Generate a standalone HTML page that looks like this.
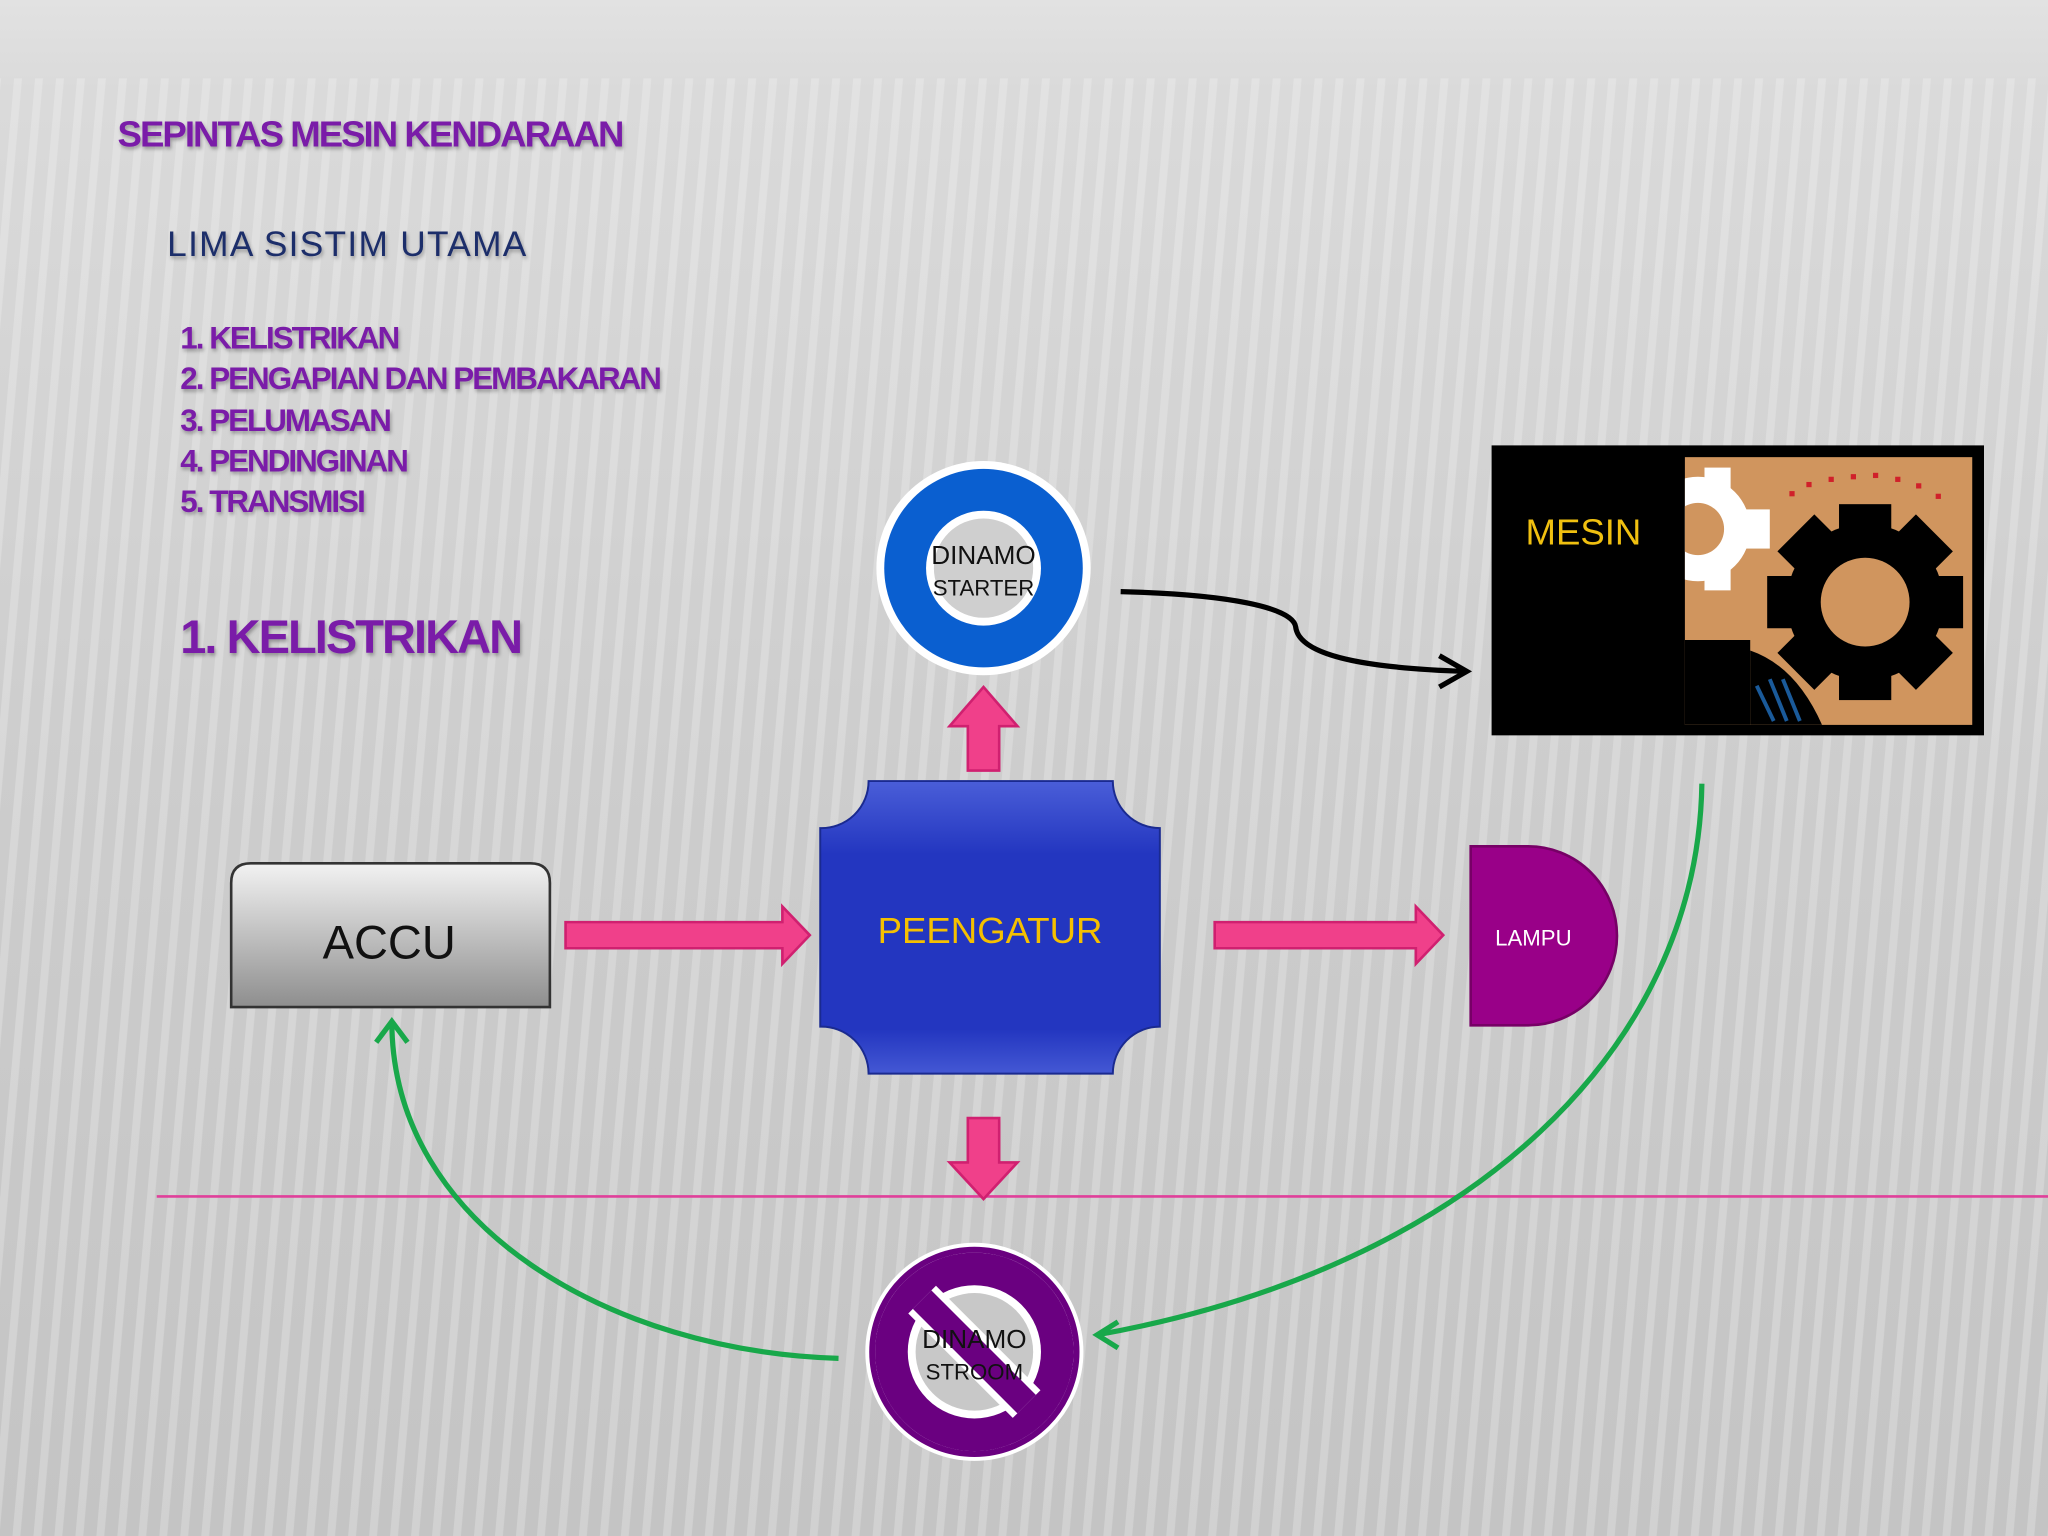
<!DOCTYPE html>
<html><head><meta charset="utf-8"><style>
html,body{margin:0;padding:0;width:2048px;height:1536px;overflow:hidden;background:#d0d0d0}
svg{display:block}
</style></head><body>
<svg width="2048" height="1536" viewBox="0 0 1568 1176" xmlns="http://www.w3.org/2000/svg" font-family="Liberation Sans, sans-serif">
<defs>
<linearGradient id="bg" x1="0" y1="0" x2="0" y2="1">
<stop offset="0" stop-color="#e2e2e2"/><stop offset="0.06" stop-color="#dadada"/><stop offset="0.5" stop-color="#cdcdcd"/><stop offset="1" stop-color="#c4c4c4"/></linearGradient>
<pattern id="st" width="16" height="40" patternUnits="userSpaceOnUse" patternTransform="rotate(5)">
<rect x="0" width="6" height="40" fill="#ffffff" opacity="0.22"/></pattern>
<linearGradient id="accu" x1="0" y1="0" x2="0" y2="1"><stop offset="0" stop-color="#f2f2f2"/><stop offset="1" stop-color="#8e8e8e"/></linearGradient>
<linearGradient id="blu" x1="0" y1="0" x2="0" y2="1"><stop offset="0" stop-color="#4a5ed8"/><stop offset="0.25" stop-color="#2336c0"/><stop offset="0.85" stop-color="#2336c0"/><stop offset="1" stop-color="#4458d4"/></linearGradient>
<clipPath id="tan"><rect x="1290" y="350" width="220" height="205"/></clipPath>
<filter id="sh"><feDropShadow dx="1" dy="2" stdDeviation="1.5" flood-color="#000" flood-opacity="0.3"/></filter>
</defs>
<rect width="1568" height="1176" fill="url(#bg)"/>
<rect y="60" width="1568" height="1116" fill="url(#st)"/>

<g font-weight="bold" fill="#7a1fa8" style="letter-spacing:-1.5px" filter="url(#sh)">
<text x="90" y="112" font-size="28">SEPINTAS MESIN KENDARAAN</text>
<text x="138" y="267" font-size="24">1. KELISTRIKAN</text>
<text x="138" y="298" font-size="24">2. PENGAPIAN DAN PEMBAKARAN</text>
<text x="138" y="330" font-size="24">3. PELUMASAN</text>
<text x="138" y="361" font-size="24">4. PENDINGINAN</text>
<text x="138" y="392" font-size="24">5. TRANSMISI</text>
<text x="138" y="500" font-size="36">1. KELISTRIKAN</text>
</g>
<text x="128" y="196" font-size="27" fill="#1f2e6a" style="letter-spacing:1px" filter="url(#sh)">LIMA SISTIM UTAMA</text>

<line x1="120" y1="916" x2="1568" y2="916" stroke="#e0409a" stroke-width="2"/>

<!-- dinamo starter -->
<circle cx="753" cy="435" r="82" fill="#fff"/>
<circle cx="753" cy="435" r="76" fill="#0a5fd0"/>
<circle cx="753" cy="435" r="44" fill="#fff"/>
<circle cx="753" cy="435" r="38" fill="#cfcfcf"/>
<text x="753" y="432" font-size="20" text-anchor="middle" fill="#111">DINAMO</text>
<text x="753" y="456" font-size="17" text-anchor="middle" fill="#111">STARTER</text>

<path d="M741,590 L741,556 L727,556 L753,526 L779,556 L765,556 L765,590Z" fill="#f0408a" stroke="#d02070" stroke-width="2"/>
<path d="M741,856 L741,890 L727,890 L753,918 L779,890 L765,890 L765,856Z" fill="#f0408a" stroke="#d02070" stroke-width="2"/>
<path d="M433,706 L599,706 L599,694 L620,716 L599,738 L599,726 L433,726Z" fill="#f0408a" stroke="#d02070" stroke-width="2"/>
<path d="M930,706 L1084,706 L1084,694 L1105,716 L1084,738 L1084,726 L930,726Z" fill="#f0408a" stroke="#d02070" stroke-width="2"/>

<!-- mesin -->
<rect x="1142" y="341" width="377" height="222" fill="#000"/>
<rect x="1290" y="350" width="220" height="205" fill="#d0955e"/>
<g clip-path="url(#tan)">
<g fill="#fff"><circle cx="1300" cy="405" r="40"/><rect x="1310" y="390" width="45" height="30"/><rect x="1305" y="358" width="20" height="20"/><rect x="1305" y="432" width="20" height="20"/></g>
<circle cx="1300" cy="405" r="20" fill="#d0955e"/>
<rect x="1290" y="490" width="50" height="65" fill="#000"/>
<path d="M1340,498 Q1375,510 1395,555 L1340,555Z" fill="#000"/>
<g stroke="#1a5a9a" stroke-width="3"><line x1="1345" y1="525" x2="1358" y2="552"/><line x1="1355" y1="520" x2="1368" y2="552"/><line x1="1365" y1="520" x2="1378" y2="552"/></g>
</g>
<g transform="translate(1428,461)" fill="#000">
<circle r="60"/>
<rect x="-20" y="-75" width="40" height="150"/><rect x="-75" y="-20" width="150" height="40"/>
<rect x="-20" y="-75" width="40" height="150" transform="rotate(45)"/><rect x="-20" y="-75" width="40" height="150" transform="rotate(-45)"/>
<circle r="34" fill="#d0955e"/></g>
<g fill="#d0202a"><rect x="1370" y="376" width="4" height="4"/><rect x="1383" y="369" width="4" height="4"/><rect x="1400" y="365" width="4" height="4"/><rect x="1417" y="363" width="4" height="4"/><rect x="1434" y="362" width="4" height="4"/><rect x="1451" y="365" width="4" height="4"/><rect x="1467" y="370" width="4" height="4"/><rect x="1482" y="378" width="4" height="4"/></g>
<text x="1168" y="417" font-size="28" fill="#f0c010">MESIN</text>

<path d="M858,453 C940,455 990,465 992,480 C995,505 1060,512 1122,514" fill="none" stroke="#000" stroke-width="4"/>
<path d="M1102,502 L1123,514 L1102,526" fill="none" stroke="#000" stroke-width="4"/>

<!-- peengatur -->
<path d="M665,598 L852,598 A36,36 0 0 0 888,634 L888,786 A36,36 0 0 0 852,822 L665,822 A36,36 0 0 0 628,786 L628,634 A36,36 0 0 0 665,598Z" fill="url(#blu)" stroke="#1a2a90" stroke-width="1.5"/>
<text x="758" y="722" font-size="28" text-anchor="middle" fill="#f5c000">PEENGATUR</text>

<!-- accu -->
<path d="M192,661 L406,661 Q421,661 421,676 L421,771 L177,771 L177,676 Q177,661 192,661Z" fill="url(#accu)" stroke="#333" stroke-width="2"/>
<text x="298" y="734" font-size="36" text-anchor="middle" fill="#111">ACCU</text>

<!-- lampu -->
<path d="M1126,648 L1170,648 A68,68.5 0 0 1 1170,785 L1126,785Z" fill="#990088" stroke="#770066" stroke-width="2"/>
<text x="1174" y="724" font-size="17" text-anchor="middle" fill="#fff">LAMPU</text>

<!-- dinamo stroom -->
<circle cx="746" cy="1035" r="82" fill="#fff"/>
<circle cx="746" cy="1035" r="76" fill="#6a0080"/>
<circle cx="746" cy="1035" r="51" fill="#fff"/>
<circle cx="746" cy="1035" r="45" fill="#c8c8c8"/>
<line x1="706" y1="995" x2="786" y2="1075" stroke="#fff" stroke-width="30"/>
<line x1="706" y1="995" x2="786" y2="1075" stroke="#6a0080" stroke-width="20"/>
<circle cx="746" cy="1035" r="79" fill="none" stroke="#6a0080" stroke-width="6"/>
<circle cx="746" cy="1035" r="82" fill="none" stroke="#fff" stroke-width="3"/>
<text x="746" y="1032" font-size="20" text-anchor="middle" fill="#111">DINAMO</text>
<text x="746" y="1056" font-size="17" text-anchor="middle" fill="#111">STROOM</text>

<g fill="none" stroke="#18a84a" stroke-width="4">
<path d="M1303,600 C1300,800 1130,970 840,1022"/>
<path d="M856,1012 L840,1022 L856,1032"/>
<path d="M642,1040 C470,1035 300,940 300,782"/>
<path d="M288,798 L300,782 L312,798"/>
</g>
</svg>
</body></html>
